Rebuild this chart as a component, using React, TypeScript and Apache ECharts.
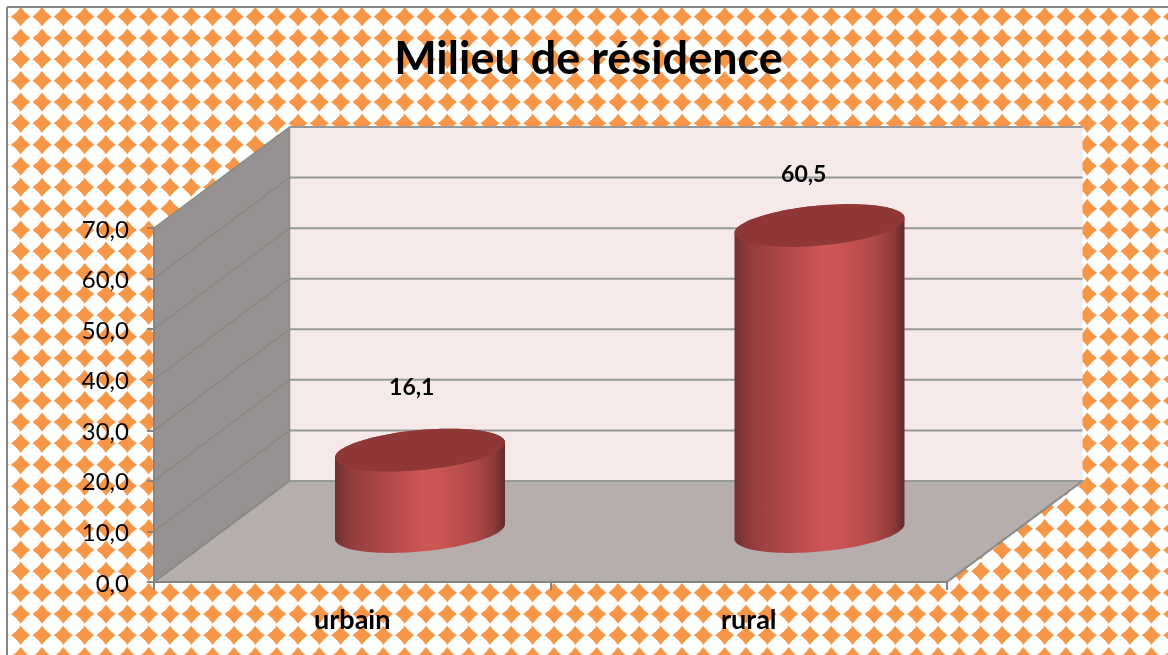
import React, { useEffect, useRef } from "react";
import * as echarts from "echarts";

const categories = ["urbain", "rural"];
const values = [16.1, 60.5];
const yTicks = [0, 10, 20, 30, 40, 50, 60, 70];
const titleText = "Milieu de résidence";

const DEPTH_X = 135.5;
const DEPTH_Y = -101;
const RX = 85.35;
const RY = 20;
const ROT = (-5.33 * Math.PI) / 180;
const labelOffsets = [[59.5, -115], [55, -103]];
const cylinderNudge = [0, 3];
const FONT = "Lato, 'Open Sans', sans-serif";

function ellipseArc(cx: number, cy: number, from: number, to: number) {
  const pts: number[][] = [];
  const n = 48;
  for (let i = 0; i <= n; i++) {
    const t = from + ((to - from) * i) / n;
    const ex = RX * Math.cos(t);
    const ey = RY * Math.sin(t);
    pts.push([
      cx + ex * Math.cos(ROT) - ey * Math.sin(ROT),
      cy + ex * Math.sin(ROT) + ey * Math.cos(ROT),
    ]);
  }
  return pts;
}

function makeTile() {
  const size = 64;
  const n = 3;
  const period = size / n;
  const c = document.createElement("canvas");
  c.width = size;
  c.height = size;
  const ctx = c.getContext("2d")!;
  ctx.fillStyle = "#ffffff";
  ctx.fillRect(0, 0, size, size);
  ctx.fillStyle = "#F79646";
  const r = 9.6;
  const k = 3.8;
  for (let i = -1; i <= n; i++) {
    for (let j = -1; j <= n; j++) {
      const cx = 20.7 - period + i * period;
      const cy = 16.7 - period + j * period;
      ctx.beginPath();
      ctx.moveTo(cx - r, cy);
      ctx.quadraticCurveTo(cx - k, cy - k, cx, cy - r);
      ctx.quadraticCurveTo(cx + k, cy - k, cx + r, cy);
      ctx.quadraticCurveTo(cx + k, cy + k, cx, cy + r);
      ctx.quadraticCurveTo(cx - k, cy + k, cx - r, cy);
      ctx.fill();
    }
  }
  return c;
}

const wallsRender = (_p: any, api: any) => {
  const children: any[] = [];
  const [x0, y0] = api.coord([0, 0]);
  const size = api.size([1, 0]);
  const plotW = size[0] * categories.length;
  const xl = x0 - size[0] / 2;
  const [, yTop] = api.coord([0, yTicks[yTicks.length - 1]]);
  const bx = xl + DEPTH_X;
  const byBase = y0 + DEPTH_Y;
  const byTop = yTop + DEPTH_Y;
  const lineC = "#989898";
  children.push({
    type: "rect",
    shape: { x: bx, y: byTop, width: plotW, height: byBase - byTop },
    style: { fill: "#F5E9E9" },
  });
  children.push({
    type: "polygon",
    shape: { points: [[xl, yTop], [bx, byTop], [bx, byBase], [xl, y0]] },
    style: { fill: "#979291" },
  });
  children.push({
    type: "polygon",
    shape: { points: [[xl, y0], [bx, byBase], [bx + plotW, byBase], [xl + plotW, y0]] },
    style: { fill: "#B6ADAD", stroke: "#8C8C8C", lineWidth: 1.5 },
  });
  yTicks.forEach((t) => {
    const [, y] = api.coord([0, t]);
    children.push({
      type: "line",
      shape: { x1: bx, y1: y + DEPTH_Y, x2: bx + plotW, y2: y + DEPTH_Y },
      style: { stroke: lineC, lineWidth: 2 },
    });
    children.push({
      type: "line",
      shape: { x1: xl, y1: y, x2: bx, y2: y + DEPTH_Y },
      style: { stroke: "#868A86", lineWidth: 1.5 },
    });
  });
  children.push({
    type: "line",
    shape: { x1: bx, y1: byTop, x2: bx, y2: byBase },
    style: { stroke: "#8C8C8C", lineWidth: 1.5 },
  });
  children.push({
    type: "line",
    shape: { x1: xl + plotW, y1: y0, x2: bx + plotW, y2: byBase },
    style: { stroke: "#8C8C8C", lineWidth: 2 },
  });
  return { type: "group", children };
};

const cylinderRender = (p: any, api: any) => {
  const idx = api.value(0);
  const v = api.value(1);
  const [fx, fy0] = api.coord([idx, 0]);
  const [, fyTop] = api.coord([idx, v]);
  const cx = fx + DEPTH_X / 2 + cylinderNudge[p.dataIndex];
  const bot = fy0 + DEPTH_Y / 2;
  const top = fyTop + DEPTH_Y / 2;
  const delta = Math.atan2(RY * Math.sin(ROT), RX * Math.cos(ROT));
  const lower = ellipseArc(cx, bot, -delta, Math.PI - delta);
  const upper = ellipseArc(cx, top, Math.PI - delta, 2 * Math.PI - delta);
  const capLower = ellipseArc(cx, top, -delta, Math.PI - delta);
  const off = labelOffsets[p.dataIndex];
  return {
    type: "group",
    children: [
      {
        type: "polygon",
        shape: { points: lower.concat(upper) },
        style: {
          fill: new echarts.graphic.LinearGradient(0, 0, 1, 0, [
            { offset: 0, color: "#6F3030" },
            { offset: 0.1, color: "#943D3D" },
            { offset: 0.3, color: "#B04848" },
            { offset: 0.5, color: "#CC5555" },
            { offset: 0.6, color: "#CC5555" },
            { offset: 0.82, color: "#B04848" },
            { offset: 0.93, color: "#8F3B3B" },
            { offset: 1, color: "#642A2A" },
          ]),
        },
      },
      {
        type: "polygon",
        shape: { points: capLower.concat(upper) },
        style: { fill: "#8F3737" },
      },
      {
        type: "text",
        x: fx + off[0],
        y: fyTop + off[1],
        style: {
          text: String(v).replace(".", ","),
          fill: "#000",
          font: `bold 23px ${FONT}`,
          align: "center",
          verticalAlign: "middle",
        },
      },
    ],
  };
};

export default function App() {
  const ref = useRef<HTMLDivElement>(null);
  useEffect(() => {
    const chart = echarts.init(ref.current!, undefined, { renderer: "svg" });
    chart.setOption({
      animation: false,
      backgroundColor: { image: makeTile(), repeat: "repeat" },
      title: {
        text: titleText,
        left: 583.5,
        top: 29,
        textAlign: "center",
        textStyle: { fontFamily: FONT, fontWeight: "bold", fontSize: 45, color: "#000" },
      },
      grid: { left: 154, right: 221, top: 228, bottom: 73 },
      xAxis: {
        type: "category",
        data: categories,
        z: 5,
        axisLine: { lineStyle: { color: "#868686", width: 2 } },
        axisTick: { show: true, length: 8, alignWithLabel: false, lineStyle: { color: "#868686", width: 2 } },
        axisLabel: { color: "#000", fontFamily: FONT, fontWeight: "bold", fontSize: 27, margin: 23 },
      },
      yAxis: {
        type: "value",
        min: 0,
        max: 70,
        interval: 10,
        z: 5,
        splitLine: { show: false },
        axisLine: { show: true, lineStyle: { color: "#868686", width: 2 } },
        axisTick: { show: true, length: 7, lineStyle: { color: "#868686", width: 2 } },
        axisLabel: {
          color: "#000",
          fontFamily: FONT,
          fontSize: 24,
          margin: 25,
          formatter: (v: number) => v.toFixed(1).replace(".", ","),
        },
      },
      graphic: [
        { type: "rect", shape: { x: 0, y: 0, width: 1168, height: 6 }, style: { fill: "#fff" }, z: 10 },
        { type: "rect", shape: { x: 0, y: 0, width: 6, height: 655 }, style: { fill: "#fff" }, z: 10 },
        { type: "line", shape: { x1: 7, y1: 7, x2: 1168, y2: 7 }, style: { stroke: "#868686", lineWidth: 2 }, z: 10 },
        { type: "line", shape: { x1: 7, y1: 7, x2: 7, y2: 655 }, style: { stroke: "#868686", lineWidth: 2 }, z: 10 },
      ],
      series: [
        {
          type: "custom",
          coordinateSystem: "cartesian2d",
          z: 1,
          silent: true,
          clip: false,
          data: [[0, 0]],
          renderItem: wallsRender,
        },
        {
          type: "custom",
          coordinateSystem: "cartesian2d",
          z: 3,
          clip: false,
          data: values.map((v, i) => [i, v]),
          encode: { x: 0, y: 1 },
          renderItem: cylinderRender,
        },
      ],
    });
    return () => chart.dispose();
  }, []);
  return (
    <div
      ref={ref}
      style={{ position: "fixed", left: 0, top: 0, width: 1168, height: 655 }}
    />
  );
}
